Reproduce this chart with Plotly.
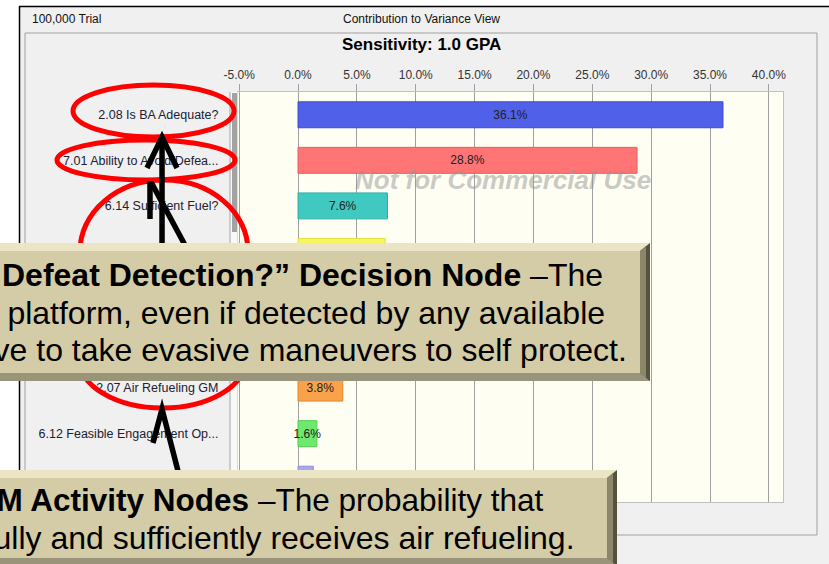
import plotly.graph_objects as go

W, H = 829, 564
# plot area in pixels
PL, PR, PT, PB = 238, 783, 92, 502

labels = [
    "2.08 Is BA Adequate?",
    "7.01 Ability to Avoid/Defea...",
    "6.14 Sufficient Fuel?",
    "2.05 Threat Detected?",
    "6.10 Weapons Effective?",
    "6.11 Target Located?",
    "2.07 Air Refueling GM",
    "6.12 Feasible Engagement Op...",
    "6.13 Weapon Release?",
]
contrib = [36.1, 28.8, 7.6, 7.4, 6.1, 4.6, 3.8, 1.6, 1.3]
bar_colors = ["#5060e8", "#ff7474", "#40c9c0", "#f6f660", "#d878d8",
              "#90d0f0", "#f9a24a", "#6ee86e", "#a8a8f0"]
edge_colors = ["#3a4ad8", "#f05a5a", "#2cb0a8", "#e0e040", "#c060c0",
               "#70b8e0", "#e08830", "#50d050", "#9090e0"]
tick_vals = [-5, 0, 5, 10, 15, 20, 25, 30, 35, 40]
tick_text = [f"{v:.1f}%" for v in tick_vals]

FONT = "Arial, Liberation Sans, sans-serif"


def fx(px):
    return (px - PL) / (PR - PL)


def fy(py):
    return (PB - py) / (PB - PT)


def path(points, close=False):
    s = "M " + " L ".join(f"{fx(x):.4f},{fy(y):.4f}" for x, y in points)
    return s + " Z" if close else s


fig = go.Figure(
    go.Bar(
        x=contrib,
        y=labels,
        orientation="h",
        marker=dict(color=bar_colors, line=dict(color=edge_colors, width=1)),
        texttemplate="%{x:.1f}%",
        textposition="inside",
        insidetextanchor="middle",
        constraintext="none",
        textangle=0,
        textfont=dict(size=12, color="#202020", family=FONT),
        hoverinfo="skip",
    )
)

fig.update_layout(
    width=W,
    height=H,
    margin=dict(l=PL, r=W - PR, t=PT, b=H - PB),
    paper_bgcolor="#f0f0f0",
    plot_bgcolor="#fefef2",
    bargap=0.43,
    showlegend=False,
    font=dict(family=FONT),
)
fig.update_xaxes(
    side="top",
    range=[-5.1, 41.2],
    tickvals=tick_vals,
    ticktext=tick_text,
    ticks="outside",
    ticklen=7,
    tickcolor="#a0a0a0",
    showgrid=True,
    gridcolor="#a0a0a0",
    gridwidth=1,
    zeroline=False,
    showline=True,
    linecolor="#c0c0c0",
    mirror=True,
    tickfont=dict(size=12, color="#333333"),
)
fig.update_yaxes(
    autorange="reversed",
    ticks="",
    ticklabelstandoff=16,
    showgrid=False,
    showline=True,
    linecolor="#c0c0c0",
    mirror=True,
    tickfont=dict(size=12.5, color="#202030"),
)

shapes = []


def rect(x0, y0, x1, y1, fill=None, line=None, lw=0):
    shapes.append(dict(type="rect", xref="paper", yref="paper",
                       x0=fx(x0), x1=fx(x1), y0=fy(y1), y1=fy(y0),
                       fillcolor=fill or "rgba(0,0,0,0)",
                       line=dict(color=line or "rgba(0,0,0,0)", width=lw),
                       layer="above"))


def poly(points, fill):
    shapes.append(dict(type="path", xref="paper", yref="paper",
                       path=path(points, close=True), fillcolor=fill,
                       line=dict(width=0), layer="above"))


def stroke(points, color="black", width=5):
    shapes.append(dict(type="path", xref="paper", yref="paper",
                       path=path(points), line=dict(color=color, width=width),
                       layer="above"))


def ellipse(x0, y0, x1, y1):
    shapes.append(dict(type="circle", xref="paper", yref="paper",
                       x0=fx(x0), x1=fx(x1), y0=fy(y1), y1=fy(y0),
                       line=dict(color="#ff0000", width=5), layer="above"))


def callout(x0, y0, x1, y1):
    rect(x0, y0, x1, y1, "#55523e")
    poly([(x0, y0), (x1, y0), (x1 - 10, y0 + 8), (x0, y0 + 8)], "#ebe5c6")
    poly([(x1 - 4, y0 + 3), (x1 - 4, y1 - 3), (x1 - 10, y1 - 8), (x1 - 10, y0 + 8)], "#8c876b")
    poly([(x0, y1), (x1, y1), (x1 - 10, y1 - 8), (x0, y1 - 8)], "#99947a")
    rect(x0, y0 + 8, x1 - 10, y1 - 8, "#d3cca6")


# window frame
rect(0, 0, 19, H, "white")
rect(0, 0, W, 6, "white")
stroke([(19.5, 6), (19.5, H)], "black", 1.5)
stroke([(19, 6.5), (W, 6.5)], "black", 1.5)
rect(25, 33, 817, 535, None, "#a0a0a0", 1)

# label panel edge and scrollbar
stroke([(230, PT), (230, PB)], "#a8a8a8", 1)
rect(231, PT, 237.5, PB, "#f8f8f8")
rect(232, PT + 1, 237, 232, "#a2a2a2")

# red highlight ellipses
ellipse(73, 85, 234, 137)
ellipse(57, 140, 235, 180)
ellipse(80, 180, 248, 322)
ellipse(79, 310, 246, 408)

# black arrows
stroke([(162, 244), (162, 137)], width=5.5)
stroke([(147, 168), (162, 137), (177, 168)], width=5.5)
stroke([(186, 247), (151, 182)], width=5.5)
stroke([(150, 219), (150, 181)], width=5.5)
stroke([(178, 471), (162, 409), (153, 443)], width=5.5)

# callout boxes
callout(-12, 243, 650, 381)
callout(-12, 470, 617, 566)

fig.update_layout(shapes=shapes)

ann = [
    dict(text="100,000 Trial", x=fx(30), y=fy(19), xanchor="left",
         font=dict(size=12, color="#111111")),
    dict(text="Contribution to Variance View", x=fx(421), y=fy(19),
         font=dict(size=12, color="#111111")),
    dict(text="<b>Sensitivity: 1.0 GPA</b>", x=fx(421), y=fy(45),
         font=dict(size=17, color="#000000")),
    dict(text="<b><i>Not for Commercial Use</i></b>", x=fx(503), y=fy(180),
         font=dict(size=26, color="rgba(150,150,150,0.5)")),
    dict(text="<b>“Defeat Detection?” Decision Node</b> –The", x=fx(605), y=fy(275),
         xanchor="right", font=dict(size=32, color="black")),
    dict(text="the platform, even if detected by any available", x=fx(607), y=fy(313),
         xanchor="right", font=dict(size=32, color="black")),
    dict(text="have to take evasive maneuvers to self protect.", x=fx(629), y=fy(350),
         xanchor="right", font=dict(size=32, color="black")),
    dict(text="<b>GM Activity Nodes</b> –The probability that", x=fx(546), y=fy(500),
         xanchor="right", font=dict(size=31.5, color="black")),
    dict(text="successfully and sufficiently receives air refueling.", x=fx(577), y=fy(538),
         xanchor="right", font=dict(size=32, color="black")),
]
for a in ann:
    a.update(xref="paper", yref="paper", showarrow=False, yanchor="middle")
    a.setdefault("xanchor", "center")
    a["font"]["family"] = FONT
fig.update_layout(annotations=ann)

# the page's default body margin would shift the whole picture by 8px
fig.write_html(
    "out.html",
    config={"displayModeBar": False},
    post_script="document.body.style.margin = '0';",
)
